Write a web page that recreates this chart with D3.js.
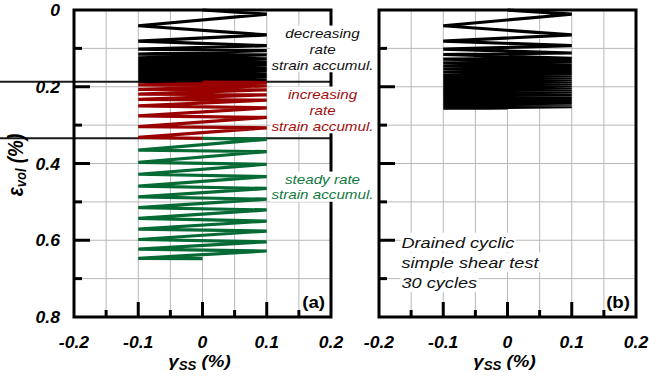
<!DOCTYPE html>
<html>
<head>
<meta charset="utf-8">
<script src="https://cdn.jsdelivr.net/npm/d3@7"></script>
<style>
body { margin: 0; background: #fff; }
svg { display: block; }
</style>
</head>
<body>
<svg id="chart" width="649" height="379"></svg>
<script>
// shear strain amplitude of the test (+/- 0.1 %)
var gammaAmp = 0.1;
var xTicks = [-0.2, -0.1, 0, 0.1, 0.2];
var xMinor = [-0.15, -0.05, 0.05, 0.15];
var yTicks = [0, 0.2, 0.4, 0.6, 0.8];
var yMinor = [0.1, 0.3, 0.5, 0.7];

// panel (a): volumetric strain at each reversal (first one at +gamma, then alternating)
var blackStart = 0, blackEnd = 0.188;
var blackPeaks = [0.011, 0.041, 0.065, 0.081, 0.093, 0.102, 0.106, 0.115, 0.117, 0.125,
    0.127, 0.133, 0.135, 0.140, 0.142, 0.146, 0.148, 0.152, 0.154, 0.157,
    0.159, 0.162, 0.163, 0.166, 0.167, 0.170, 0.171, 0.173, 0.174, 0.176,
    0.177, 0.179, 0.180, 0.182, 0.183, 0.185, 0.186, 0.187];
var redStart = 0.188, redEnd = 0.3345;
var redPeaks = [0.189, 0.195, 0.198, 0.207, 0.208, 0.219, 0.221, 0.233, 0.235, 0.250,
    0.255, 0.276, 0.280, 0.304, 0.307, 0.332];
var greenStart = 0.3345, greenEnd = 0.648;
var greenPeaks = [0.337, 0.365, 0.369, 0.397, 0.402, 0.428, 0.434, 0.459, 0.465, 0.487,
    0.493, 0.515, 0.521, 0.543, 0.550, 0.571, 0.576, 0.598, 0.604, 0.623,
    0.628, 0.647];
var limitLines = [0.187, 0.334];

// panel (b): 30 cycles
var cycStart = 0, cycEnd = 0.256;
var cycPeaks = [0.011, 0.041, 0.065, 0.081, 0.093, 0.102, 0.112, 0.116, 0.126, 0.128,
    0.134, 0.138, 0.143, 0.146, 0.151, 0.154, 0.158, 0.161, 0.165, 0.168,
    0.171, 0.174, 0.177, 0.180, 0.183, 0.186, 0.188, 0.191, 0.193, 0.196,
    0.198, 0.201, 0.203, 0.206, 0.208, 0.210, 0.212, 0.215, 0.217, 0.219,
    0.221, 0.223, 0.225, 0.227, 0.229, 0.231, 0.233, 0.235, 0.237, 0.239,
    0.241, 0.243, 0.244, 0.246, 0.247, 0.249, 0.250, 0.252, 0.252, 0.256];

var FONT = "'Liberation Sans', Arial, sans-serif";
var SX = 1.17; // the picture is a bit wider than tall
var svg = d3.select("#chart");

var y = d3.scaleLinear().domain([0, 0.8]).range([10, 317]);
var panels = [
    {x: d3.scaleLinear().domain([-0.2, 0.2]).range([74, 331]), label: "(a)", yLabels: true},
    {x: d3.scaleLinear().domain([-0.2, 0.2]).range([379, 636]), label: "(b)", yLabels: false}
];

function buildPath(start, peaks, end) {
    var pts = [[0, start]];
    peaks.forEach(function(p, i) {
        pts.push([i % 2 === 0 ? gammaAmp : -gammaAmp, p]);
    });
    pts.push([0, end]);
    return pts;
}

function addText(parent, x, yy, str, size, opts) {
    opts = opts || {};
    var sx = opts.sx || SX;
    return parent.append("text")
        .attr("transform", "translate(" + x + "," + yy + ") scale(" + sx + ",1)")
        .attr("text-anchor", opts.anchor || "start")
        .style("font-family", FONT)
        .style("font-size", size + "px")
        .style("font-weight", opts.bold ? "bold" : "normal")
        .style("font-style", opts.italic ? "italic" : "normal")
        .attr("fill", opts.color || "#000")
        .text(str);
}

// text block with a white box behind it
function textBlock(parent, lines, x, y0, dy, size, opts, perLine) {
    var g = parent.append("g");
    var bg = g.append("g");
    var texts = [];
    lines.forEach(function(l, i) {
        texts.push(addText(g, x, y0 + i * dy, l, size, opts));
    });
    if (perLine) {
        texts.forEach(function(t, i) {
            var b = t.node().getBBox();
            var w = b.width * SX, x0 = x + b.x * SX;
            bg.append("rect").attr("x", x0 - 1).attr("y", y0 + b.y - 1 + i * dy)
                .attr("width", w + 2).attr("height", b.height + 2).attr("fill", "#fff");
        });
    } else {
        var b = g.node().getBBox();
        bg.append("rect").attr("x", b.x - 1).attr("y", b.y).attr("width", b.width + 2)
            .attr("height", b.height).attr("fill", "#fff");
    }
    return g;
}

var line = function(x) {
    return d3.line().x(function(d) { return x(d[0]); }).y(function(d) { return y(d[1]); });
};

panels.forEach(function(p, pi) {
    var x = p.x;
    var g = svg.append("g");
    var x0 = x.range()[0], x1 = x.range()[1];

    // grid
    g.selectAll(".vg").data(xMinor.concat([-0.1, 0, 0.1])).enter().append("line")
        .attr("x1", function(d) { return x(d); }).attr("x2", function(d) { return x(d); })
        .attr("y1", y(0)).attr("y2", y(0.8))
        .attr("stroke", "#b8b8b8").attr("stroke-width", 1);
    g.selectAll(".hg").data(yMinor.concat([0.2, 0.4, 0.6])).enter().append("line")
        .attr("x1", x0).attr("x2", x1)
        .attr("y1", function(d) { return y(d); }).attr("y2", function(d) { return y(d); })
        .attr("stroke", "#b8b8b8").attr("stroke-width", 1);

    if (pi === 0) {
        g.selectAll(".lim").data(limitLines).enter().append("line")
            .attr("x1", 0).attr("x2", x1)
            .attr("y1", function(d) { return y(d); }).attr("y2", function(d) { return y(d); })
            .attr("stroke", "#1a1a1a").attr("stroke-width", 2);
        var series = [
            {pts: buildPath(blackStart, blackPeaks, blackEnd), color: "#000"},
            {pts: buildPath(redStart, redPeaks, redEnd), color: "#990000"},
            {pts: buildPath(greenStart, greenPeaks, greenEnd), color: "#066a35"}
        ];
        series.forEach(function(s) {
            g.append("path").attr("d", line(x)(s.pts)).attr("fill", "none")
                .attr("stroke", s.color).attr("stroke-width", 3.2).attr("stroke-linejoin", "bevel");
        });
    } else {
        g.append("path").attr("d", line(x)(buildPath(cycStart, cycPeaks, cycEnd))).attr("fill", "none")
            .attr("stroke", "#000").attr("stroke-width", 3.2).attr("stroke-linejoin", "bevel");
    }

    // frame
    g.append("rect").attr("x", x0).attr("y", y(0)).attr("width", x1 - x0).attr("height", y(0.8) - y(0))
        .attr("fill", "none").attr("stroke", "#000").attr("stroke-width", 3);

    // ticks
    g.selectAll(".yt").data(yTicks.slice(1, 4)).enter().append("line")
        .attr("x1", x0).attr("x2", x0 + 16)
        .attr("y1", function(d) { return y(d); }).attr("y2", function(d) { return y(d); })
        .attr("stroke", "#000").attr("stroke-width", 3);
    g.selectAll(".ym").data(yMinor).enter().append("line")
        .attr("x1", x0).attr("x2", x0 + 8)
        .attr("y1", function(d) { return y(d); }).attr("y2", function(d) { return y(d); })
        .attr("stroke", "#000").attr("stroke-width", 3);
    g.selectAll(".xt").data(xTicks.slice(1, 4)).enter().append("line")
        .attr("x1", function(d) { return x(d); }).attr("x2", function(d) { return x(d); })
        .attr("y1", y(0.8)).attr("y2", y(0.8) - 15)
        .attr("stroke", "#000").attr("stroke-width", 3);
    g.selectAll(".xm").data(xMinor).enter().append("line")
        .attr("x1", function(d) { return x(d); }).attr("x2", function(d) { return x(d); })
        .attr("y1", y(0.8)).attr("y2", y(0.8) - 7)
        .attr("stroke", "#000").attr("stroke-width", 3);

    // tick labels
    xTicks.forEach(function(t) {
        addText(g, x(t), 347.5, String(t), 16, {anchor: "middle", bold: true, italic: true, sx: 1.1});
    });
    if (p.yLabels) {
        yTicks.forEach(function(t) {
            addText(g, 60, y(t) + 6, String(t), 16, {anchor: "end", bold: true, italic: true, sx: 1.1});
        });
    }

    // x title
    var xt = addText(g, x(0) - 3, 367, "", 17, {anchor: "middle", bold: true, italic: true, sx: 1.1});
    xt.append("tspan").text("\u03b3");
    xt.append("tspan").attr("dy", 3).style("font-size", "12px").text("SS");
    xt.append("tspan").attr("dy", -3).text(" (%)");

    // panel label
    addText(g, x1 - 6, 307.5, p.label, 17, {anchor: "end", bold: true, sx: 1.1});
});

// y title
var yt = svg.append("text")
    .attr("transform", "translate(22.5,165) rotate(-90) scale(1," + SX + ")")
    .attr("text-anchor", "middle")
    .style("font-family", FONT).style("font-size", "19px")
    .style("font-weight", "bold").style("font-style", "italic");
yt.append("tspan").text("\u03b5");
yt.append("tspan").attr("dy", 3).style("font-size", "13px").text("vol");
yt.append("tspan").attr("dy", -3).text(" (%)");

// annotations
textBlock(svg, ["decreasing", "rate", "strain accumul."], 322.5, 37.5, 16, 13,
    {anchor: "middle", italic: true, color: "#111"}, false);
textBlock(svg, ["increasing", "rate", "strain accumul."], 322.5, 98.5, 16, 13,
    {anchor: "middle", italic: true, color: "#a30d0d"}, false);
textBlock(svg, ["steady rate", "strain accumul."], 322.5, 183.5, 15.5, 13,
    {anchor: "middle", italic: true, color: "#11783f"}, false);
textBlock(svg, ["Drained cyclic", "simple shear test", "30 cycles"], 401.5, 247.5, 20, 15.5,
    {italic: true, color: "#111"}, true);
</script>
</body>
</html>
